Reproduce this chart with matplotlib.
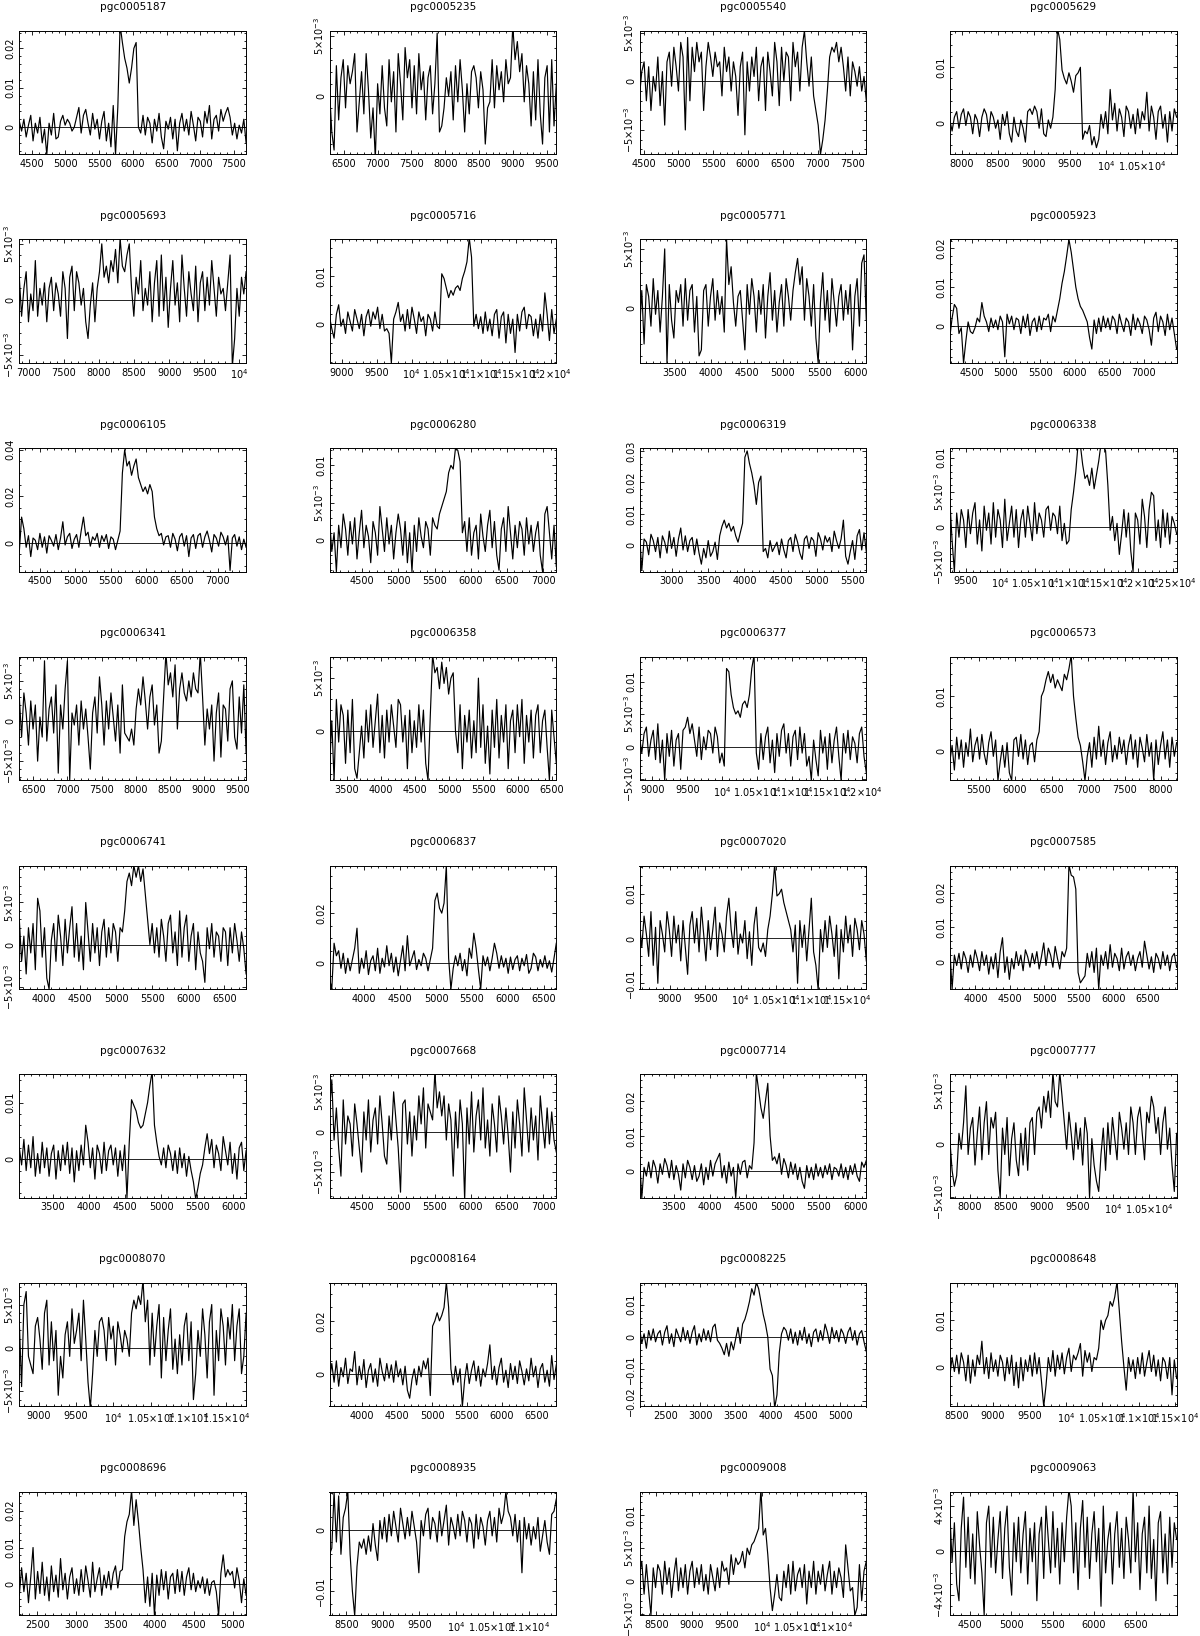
import numpy as np
import matplotlib
matplotlib.use('Agg')
import matplotlib.pyplot as plt
from matplotlib.ticker import MultipleLocator

plt.rcParams['font.family'] = ['DejaVu Sans']
plt.rcParams['mathtext.fontset'] = 'dejavusans'

# ---------------- data ----------------
names = ['pgc0005187', 'pgc0005235', 'pgc0005540', 'pgc0005629',
         'pgc0005693', 'pgc0005716', 'pgc0005771', 'pgc0005923',
         'pgc0006105', 'pgc0006280', 'pgc0006319', 'pgc0006338',
         'pgc0006341', 'pgc0006358', 'pgc0006377', 'pgc0006573',
         'pgc0006741', 'pgc0006837', 'pgc0007020', 'pgc0007585',
         'pgc0007632', 'pgc0007668', 'pgc0007714', 'pgc0007777',
         'pgc0008070', 'pgc0008164', 'pgc0008225', 'pgc0008648',
         'pgc0008696', 'pgc0008935', 'pgc0009008', 'pgc0009063']

# velocity range of each spectrum (km/s)
x_lo = [4315, 6290, 4440, 7830, 6865, 8820, 3013, 4185,
        4215, 4051, 2552, 9266, 6292, 3248, 8815, 5106,
        3654, 3521, 8570, 3628, 3031, 4051, 3032, 7722,
        8742, 3530, 2130, 8407, 2270, 8270, 8260, 4260]
x_hi = [7680, 9640, 7700, 10980, 10095, 12075, 6154, 7475,
        7400, 7180, 5685, 12555, 9625, 6567, 12062, 8212,
        6803, 6670, 11775, 6917, 6180, 7180, 6153, 10882,
        11772, 6780, 5370, 11517, 5170, 11370, 11480, 6995]
# flux axis range (Jy)
y_lo = [-0.0069, -0.00485, -0.0075, -0.0057, -0.0057, -0.0082, -0.0046, -0.0096,
        -0.0125, -0.0042, -0.0084, -0.0065, -0.0074, -0.0046, -0.0052, -0.0054,
        -0.0053, -0.0103, -0.0113, -0.0078, -0.0068, -0.0082, -0.0077, -0.0051,
        -0.0068, -0.0121, -0.0216, -0.0085, -0.0084, -0.0139, -0.0052, -0.0058]
y_hi = [0.0245, 0.0054, 0.0052, 0.0166, 0.0054, 0.0177, 0.0058, 0.0223,
        0.0407, 0.0123, 0.0309, 0.0114, 0.0080, 0.0070, 0.0138, 0.0172,
        0.0094, 0.0390, 0.0163, 0.0278, 0.0150, 0.0072, 0.0276, 0.0066,
        0.0075, 0.0342, 0.0168, 0.0180, 0.0252, 0.0062, 0.0136, 0.0053]
y_step = [0.01, 0.005, 0.005, 0.01, 0.005, 0.01, 0.005, 0.01,
          0.02, 0.005, 0.01, 0.005, 0.005, 0.005, 0.005, 0.01,
          0.005, 0.02, 0.01, 0.01, 0.01, 0.005, 0.01, 0.005,
          0.005, 0.02, 0.01, 0.01, 0.01, 0.01, 0.005, 0.004]

# flux densities, units of 1e-4 Jy, equally spaced channels over the velocity range
f5187 = [15, -10, 20, -25, 5, 30, -35, 10, -15, 25, -40, -5, -70, 10, -20, 35, -30, -25, 15, 30,
         5, 20, 10, -10, 0, 25, 50, -15, 30, 45, 10, -20, 35, -5, 20, -30, 15, 40, -35, 10,
         -50, 55, -70, 50, 260, 215, 175, 150, 112, 150, 200, 215, 0,
         -15, 30, -20, 25, 10, -40, 20, -10, 35, -25, -55, 15, -5, 25, -30, 20, -60, 10, 35, -10,
         20, -20, 40, 5, -35, 25, 15, -25, 40, 10, 55, -30, 20, 30, -10, 45, 15, 35, 50, 25,
         -20, 10, -30, 5, -15, 20, -40]
f5235 = [5, -30, -45, 25, -20, 15, 30, -10, 25, 10, 20, 35, -30, -5, 20, -15, 35, 5, -35, -10,
         -52, 10, -15, 25, -10, -25, 30, -5, 20, -30, 35, 10, -20, 40, 15, 30, -10, 25, -15, 35,
         5, 20, -20, 15, 25, -15, 10, 52, -30, -25, -10, 15, 0, 20, -20, 25, -5, 30, 5, -30,
         10, -15, 20, 25, 15, -10, 20, 5, -40, -10, -5, 30, -10, 25, 5, 20, -5, 30, 10, 15,
         58, 30, 45, 20, 35, -5, 25, 10, -25, 20, -20, 30, -15, -40, 15, 25, -30, 30, -25, 10]
f5540 = [-15, 10, 20, -20, 15, -30, 5, -10, 25, -25, 10, -45, 20, 30, -5, 35, 15, -10, 40, 25,
         -50, 45, -20, 35, 10, 40, 20, 30, -30, 15, 40, 25, 5, 30, 15, 20, -15, 35, 10, 25,
         -10, 20, 5, -35, 15, 30, -55, 20, -10, 25, 5, 35, -20, 15, 25, -30, 30, 10, -15, 40,
         20, -25, 35, 0, 30, 25, -20, 40, 15, 30, -10, 35, 52, 20, -5, 25, -15, -30, -45, -75,
         -60, -40, -10, 25, 35, 30, 40, 20, 35, 15, -10, 25, -15, 20, 10, -5, 15, -10, 5, -20]
f5629 = [5, -15, 10, 20, -10, 15, 25, -5, 20, 10, -20, 15, 5, -25, 10, 25, 15, -15, 20, 10,
         -10, 5, -30, 15, -5, 20, -20, -35, 10, -15, -25, 5, -10, -35, 20, 25, 15, 30, 20, -10,
         25, -20, -25, 5, -10, 10, 60, 170, 150, 95, 80, 70, 90, 75, 55, 85, 90, 100, -30, -15,
         -20, -5, -40, -25, -45, -30, 15, -10, 20, -20, 60, 5, 35, -15, 25, 10, -25, 30, 20, -10,
         15, -20, 25, -10, 20, 5, 55, -15, 30, 10, -30, 20, 30, -10, 15, -35, 20, -15, 25, 10]
f5693 = [20, -15, 10, 25, -20, 5, -10, 35, -15, 10, -5, 15, -20, 10, 20, -10, 15, 5, -15, 25,
         10, -35, 20, 30, -10, 25, 15, -5, 10, -20, -35, -5, 15, -20, 10, 25, 50, 20, 30, 15,
         35, 25, 45, 15, 55, 30, 25, 40, 50, 10, -15, 20, 5, 35, -10, 10, -5, 25, -20, 15,
         35, -15, 40, -10, 20, -25, 10, 35, -5, 15, -20, 40, 10, -15, 25, 5, -10, 30, -20, 15,
         25, -10, 20, -5, 35, 10, -15, 20, 5, 10, -10, 15, 40, -60, -35, 10, -15, 20, 5, 25]
f5716 = [15, -10, -30, 20, 40, -5, 10, -20, 25, 5, -15, 30, 10, -10, 20, -25, 15, 30, -5, 25,
         10, 35, -10, 20, -15, -10, -20, -82, 10, 25, 45, 5, 20, -15, 30, -10, 35, 10, -20, 25,
         5, 15, -25, 20, 10, -15, 25, -5, -10, 105, 95, 75, 55, 70, 60, 75, 80, 70, 95, 110,
         130, 180, 140, -5, 20, -10, 15, -20, 25, -15, 10, -25, 20, 30, -30, 15, 25, -40, 20, -20,
         10, -60, 20, -15, 25, 35, -10, 20, 15, -25, 10, -30, 20, -15, 65, 20, -35, 30, -20, 10]
f5771 = [-20, 15, -30, 20, 10, -15, 25, -5, 15, -20, 10, 50, -46, 20, -10, -25, 15, 5, 20, -15,
         25, -10, 15, 20, -20, 10, -40, -35, 15, 20, -15, 10, 25, -10, 15, -5, 10, -20, 58, 20,
         35, 5, -15, 10, 15, -10, -35, 20, -5, 25, 10, -20, 15, -5, 20, -25, 10, 30, -10, 15,
         -20, 5, 20, -15, 25, 10, -10, 15, 30, 42, 20, 35, -10, 25, 10, -15, 20, -25, -46, 5,
         30, -10, 15, -20, 25, 5, -15, 10, 20, -10, 15, -5, 20, -35, 10, 25, -15, 38, 45, -10]
f5923 = [-30, 20, 55, 45, -20, -5, -96, -40, 10, -15, -20, -5, 20, 10, 60, 25, 10, -15, 20, -5,
         15, -10, 25, 10, -80, 30, 5, 25, -10, 20, 15, -20, 25, -5, 30, -25, 10, 20, -15, 25,
         -10, 20, 15, 30, -15, 25, 10, 40, 70, 110, 140, 180, 223, 190, 145, 100, 70, 50, 40, 25,
         10, -30, -60, 15, -20, 20, -15, 25, -5, 20, -10, 25, 15, -20, 30, 5, -15, 20, 10, -25,
         30, -10, 20, 5, -20, 25, 15, -10, -50, 20, 35, -15, 25, 10, -25, 30, -10, 20, -20, -60]
f6105 = [-40, 110, 60, -20, 30, -60, 20, 10, -30, 40, -20, 25, -45, 30, 10, -15, 35, -30, 20, 90,
         -10, 25, 40, -25, 15, 35, -20, 50, 110, 30, 45, -15, 25, 10, 40, -20, 30, 5, 35, -25,
         25, 15, -30, 10, 50, 300, 400, 330, 350, 290, 330, 360, 280, 250, 220, 240, 210, 250, 220, 110,
         60, 30, 40, -10, 25, 30, -20, 40, 15, -35, 25, 40, -15, 30, -60, 20, 35, -25, 30, 40,
         -20, 25, 50, 10, -40, 35, 20, -15, 45, 25, -10, 30, -120, 20, 35, -15, 25, -30, 15, -20]
f6280 = [30, -15, 10, -42, 20, -10, 35, 15, -20, 25, -5, 30, -25, 10, 40, -10, 20, 5, -30, 25,
         10, -20, 45, 15, -15, 30, -5, 20, -25, 10, 35, 15, -20, 25, -30, 10, -42, 20, -15, 30,
         5, -10, 25, 15, -20, 30, 20, 15, 35, 45, 55, 65, 90, 100, 95, 123, 120, 105, 10, 25,
         -15, 30, -20, 10, 20, -25, 35, 5, -15, 20, 40, -10, 25, -20, -40, 15, 30, -15, 45, 10,
         -25, 20, -10, 25, 15, -20, 30, -5, 20, -15, 10, 25, -20, -42, 35, 45, 10, -25, 20, -35]
f6319 = [40, -80, 20, 10, -30, 35, 15, -20, 25, -40, 30, 10, -25, 45, -10, 25, -35, 20, 55, -15,
         30, -20, 15, 25, -30, 20, -25, -60, -10, -40, 15, -35, -20, 10, -45, 30, 60, 80, 55, 70,
         45, 60, 30, 10, 40, 70, 280, 300, 260, 230, 190, 130, 200, 220, -20, -10, -40, 15, -20, -5,
         10, -30, 20, -15, -40, 15, 25, -20, 35, 10, -25, -45, 20, 30, -10, 25, 15, -35, 40, 20,
         -15, 30, 10, 25, -20, 45, 15, -10, 20, 80, -35, -60, -20, 15, -45, 30, 50, -15, 40, -20]
f6338 = [40, -20, -65, 20, -15, 25, 10, -30, 25, -10, 20, 35, -25, 10, -35, 30, -5, 20, -25, 35,
         -15, 25, 10, -30, 40, -20, 5, 30, -15, 25, -30, 10, 25, -15, 30, 5, -20, 35, -10, 20,
         10, -15, 25, 30, -5, 20, 15, -10, 30, -20, 5, -25, -20, 25, 50, 80, 120, 118, 90, 70,
         75, 60, 85, 55, 75, 95, 120, 118, 110, 60, -5, 15, -20, 5, -40, -10, 25, -15, 20, -35,
         -65, 20, 10, -25, 40, 15, -30, 25, 50, 45, -20, 10, -30, 25, -15, 20, -25, 15, 5, -10]
f6341 = [30, -20, 35, 10, -30, 25, -10, 20, -50, 5, -20, 75, -25, 15, 30, -15, 45, -65, 20, -10,
         40, 75, -74, 10, -5, 20, -30, 25, -10, 15, -20, -60, 10, 30, -15, 55, 20, -30, 25, -10,
         35, 5, -25, 20, -40, 45, -15, -20, -25, -10, -30, 15, 40, 20, 55, 25, -10, 30, 45, -5,
         20, -40, -25, 30, 85, 45, 60, 30, 70, -10, 40, 60, 35, 25, 50, 30, 60, 40, 35, 85,
         30, -30, 15, -10, 20, -50, 10, 35, -45, 20, 15, -25, 40, 50, -20, -35, 30, -15, 45, -40]
f6358 = [-35, 10, -46, 30, -10, 25, 15, -30, 20, -20, 30, -35, -44, -20, 5, -25, 20, -10, 25, -15,
         10, 35, -20, 15, -25, 20, -10, 25, 5, -15, 30, 25, -10, 15, -35, 20, -20, 10, -15, 25,
         -10, 20, -30, -46, 15, 72, 55, 60, 40, 65, 45, 60, 35, 50, 55, 0, -20, 25, -35, 15,
         -10, 20, -25, 10, -20, 50, -15, 25, -30, 5, -40, 20, -15, 30, -25, 15, -10, 25, -35, 10,
         20, -20, 25, -5, 30, -30, 15, -10, 20, -25, 15, 25, -20, 10, 20, -15, -46, 20, -5, -30]
f6377 = [15, -10, 20, 30, -15, 10, 25, -20, 35, -25, 10, -52, 20, -15, 25, -30, 10, 20, -35, 25,
         30, 45, 20, 35, 10, -15, 30, -20, 15, -5, 25, 20, -10, 30, 15, -25, -10, -30, 120, 115,
         80, 60, 50, 55, 45, 65, 70, 60, 80, 120, 140, -10, -35, 20, -20, 15, 30, -25, 10, -40,
         20, -15, 25, 35, -10, 20, -30, 15, 25, -20, 30, -10, 20, -30, -15, -52, 10, -20, -45, 25,
         -10, 15, -35, 20, -25, 10, 30, -15, -52, 20, -10, 25, -20, 15, 5, -25, 20, 30, -15, -40]
f6573 = [-20, 10, -35, 25, -15, 20, -30, 15, -10, 40, -20, 10, 25, -15, 30, -5, -25, 15, 35, -10,
         20, -54, -20, 10, -30, 15, -40, -54, 20, 25, -10, 30, -15, 20, -25, 10, 15, -20, 20, 35,
         100, 110, 130, 145, 125, 140, 115, 130, 120, 110, 140, 130, 150, 175, 100, 60, 25, 10, -20, -54,
         -10, 15, -30, 25, -15, 45, -10, 20, -25, 15, 35, -20, 10, -15, 25, -5, 20, -25, 10, 30,
         -15, 20, -30, 25, 5, -20, 30, -10, 15, -54, 20, -25, 10, 35, -15, 20, -30, 25, -10, 15]
f6741 = [30, -20, 10, -35, 20, -10, 25, -30, 55, 40, -15, 20, -40, -53, 5, 25, -20, 35, 10, -25,
         30, -10, 20, 45, -15, 25, -20, 10, -30, 50, 15, -20, 25, -10, 20, -25, 15, 30, -15, 20,
         -10, 25, 15, -20, 20, 15, 40, 75, 85, 70, 94, 80, 94, 75, 90, 60, 30, 0, 25, -10,
         20, -15, 30, 10, -20, 25, 35, -10, 15, -25, 40, -15, 20, 35, -20, 10, 25, -30, 15, -10,
         -20, -45, 20, -5, 25, -15, 15, 10, -20, 20, 15, -25, 20, -10, 25, 5, -20, 15, -5, -35]
f6837 = [-60, -103, 80, 30, 50, -20, 40, -40, 20, -30, 15, 60, 140, -40, 20, -20, 50, -45, 10, 30,
         -30, 60, -40, 20, -15, 70, -10, 40, -35, 25, -50, 10, 70, -30, 110, -10, 20, 50, -25, 15,
         -10, 40, 20, -30, 15, 60, 250, 280, 220, 200, 240, 390, 20, -103, -20, 30, -10, 40, -30, 15,
         -50, 60, 20, 120, 60, -25, -103, 30, -10, 25, -30, 20, 80, 40, -20, 30, -15, 20, -40, 25,
         -25, 15, 30, -30, 20, -10, 35, -40, -20, 40, 25, -30, 15, -15, 30, -20, 10, -35, 20, 80]
f7020 = [30, -20, 50, 10, -40, 60, -60, 25, -100, 40, 10, -30, 60, 20, -40, 50, -10, 30, -50, 40,
         -20, -80, 30, 60, -10, 45, -30, 70, 10, -50, 40, -25, 20, 70, -40, 35, 10, -30, 50, 90,
         20, -20, 60, -35, 10, -10, 40, -45, 15, -60, 30, 70, -20, -30, -10, -40, 20, 50, 100, 165,
         95, 100, 110, 80, 60, 40, 20, -30, 30, -100, 40, -20, 30, -50, 20, 90, -30, -60, -115, 20,
         -30, 40, -20, 50, 10, -40, 30, -90, 20, -30, 50, -10, 30, -40, 45, 20, -25, 40, 10, -50]
f7585 = [40, -78, 20, -10, 25, -20, 30, 10, -30, 20, -15, 35, 10, -25, 30, -10, 20, -35, 15, -20,
         25, -45, 30, 70, -30, 15, -50, 10, -20, 30, -10, 20, -25, 35, 15, -15, 25, -5, 30, -20,
         15, 55, -10, 40, 20, -15, 45, 10, -20, 30, 15, 40, 280, 250, 245, 210, -30, -60, -50, -40,
         25, -15, 30, -30, 40, -78, 20, -10, 30, -20, 50, -15, 25, 10, -25, 40, -20, 15, 30, -10,
         20, -25, 10, 30, -15, 60, 20, -20, 15, -30, 25, 10, -20, 30, -10, 20, -25, 15, 25, -15]
f7632 = [20, -10, 35, -20, 25, -15, 40, -30, 10, -25, 30, -15, 20, -30, 10, 25, -35, 15, -20, 25,
         -10, 30, -25, 20, -40, 15, -20, 25, -10, 60, 30, -15, 20, -35, 25, 10, -25, 30, -20, 15,
         25, -10, 20, -30, 15, -20, 25, -68, 30, 105, 95, 85, 65, 55, 60, 80, 100, 130, 155, 60,
         30, 5, -10, 20, -15, 25, 10, -20, 15, -25, 20, -15, 10, -30, 5, -20, -40, -70, -50, -25,
         -10, 20, 45, 10, 35, -15, 25, 10, -20, 40, 15, -10, 30, -25, 10, -35, 20, 30, -20, 15]
f7668 = [25, 65, -10, 30, -20, -55, 40, -15, 20, 10, -30, 35, 10, -20, -50, 25, -10, 40, -25, 15,
         30, -15, 45, 10, -30, -40, 20, -10, 50, 15, -20, -75, 35, 40, -15, 25, -30, 20, -10, 45,
         10, 55, -20, 35, 25, 15, 75, 30, 50, 20, 45, -10, 35, 15, -55, 25, -20, 40, 10, -85,
         30, -15, 50, -25, 20, 40, -10, 55, -20, 15, -30, 35, 10, -25, 45, 20, -15, 30, -5, -50,
         25, -20, 40, 10, -30, 55, 15, -25, 30, -10, 20, -35, 45, 10, -20, 30, -15, 25, -10, -25]
f7714 = [40, -77, 10, -15, 25, -20, 30, 10, -35, 20, -10, 35, 15, -20, 30, -25, 15, -10, -55, 20,
         -20, 30, 10, -25, 15, -30, -15, 20, -40, 10, -25, 30, -15, 20, 35, 50, -20, 15, -35, 25,
         -15, 10, -77, 20, -10, 25, 30, -20, 15, 5, 80, 280, 230, 180, 150, 200, 250, 100, 30, 40,
         20, 50, -10, 35, 15, -20, 25, -10, 20, -25, 10, -30, -50, 15, -20, 10, -25, 20, -15, 10,
         -20, 15, -10, 20, -25, 10, 5, -15, 20, -20, 10, -25, 15, -10, 20, -15, -30, 25, 10, 30]
f7777 = [5, -25, -40, -30, 10, -5, 20, 55, -10, 15, 25, -20, 10, 35, -15, 20, 40, -10, 25, 15,
         30, -25, -51, 15, -10, 25, -30, 5, 20, -15, -30, 10, -20, 15, -25, 20, 25, -10, 30, 35,
         15, 45, 30, 50, 25, 68, 40, 35, 68, 45, 20, -5, 30, 10, -15, 20, -5, 15, -20, 25,
         10, -51, 5, -20, -35, -45, -10, 15, -25, 20, -10, 25, 5, -15, 30, 15, -5, 20, -10, 35,
         20, -10, 25, 35, 10, -15, 30, 20, 45, 35, 10, 25, -10, 20, 35, -5, 15, -20, -45, 10]
f8070 = [30, -45, 50, 65, -10, -20, -30, 25, 35, 10, -25, 40, 55, -20, 30, -15, 20, -55, -10, -35,
         15, 30, -10, 45, 5, 20, 40, -15, 55, 10, -40, -70, -30, 20, -10, 30, 35, 20, -15, 35,
         10, 25, -20, 30, 15, -5, 20, 10, -10, 40, 55, 45, 60, 50, 78, 30, 55, -20, 40, -10,
         25, 50, -35, 35, -15, 20, 45, -25, 10, -30, 15, -20, 25, 40, -15, 30, -60, -30, 20, -10,
         45, 15, -35, 30, 50, -55, 20, -15, 45, 25, -20, 35, 10, 50, -15, 25, 45, -30, -10, 40]
f8164 = [-20, 40, -30, 50, -45, 25, -10, 60, -35, 20, 10, 85, -40, 30, -20, 55, -50, 15, 40, -30,
         20, -45, 60, 10, -25, 40, -15, 35, -30, 50, -10, 20, -40, 30, -60, -90, -20, 20, -40, 30,
         -10, 50, 20, 60, -80, 180, 200, 230, 200, 220, 250, 345, 250, 20, -40, 30, -30, 20, -121, -20,
         40, -35, 15, 50, -25, 30, -45, 20, -10, 40, 110, -20, 30, -40, 25, 60, -30, 15, -50, 40,
         -20, 30, -35, 50, 10, -40, 20, -25, 60, -10, 30, -50, 20, 40, -30, 15, -45, 70, -20, 35]
f8225 = [30, -20, 10, -35, 20, -10, 25, -15, 10, 20, -25, 15, 35, -20, 10, -30, 25, 5, -15, 30,
         -10, 20, -20, 15, 35, -25, 10, -15, 25, -10, 20, -15, 30, 40, -10, -20, -35, -55, -20, -60,
         -15, -40, -5, 30, -20, 40, 55, 80, 110, 150, 130, 170, 150, 110, 70, 40, 0, -100, -120, -220,
         -180, -50, 10, 30, 20, -10, 25, -20, 15, -25, 20, -10, 30, -20, 10, -30, 15, 25, -15, 20,
         -10, 40, 15, -20, 30, -5, 20, -15, 25, 10, -20, 15, 30, -10, 20, -25, 10, 20, -15, -45]
f8648 = [-20, 20, -10, 25, -15, 30, 10, -30, 25, -35, 15, -20, 25, 5, 55, -15, 20, -25, 30, -10,
         15, -20, 25, 10, -30, 20, -15, 25, -40, 10, -45, 20, -30, 15, -10, 25, -20, 30, -15, 20,
         -30, -85, -40, 20, -10, 35, -20, 25, -5, 30, -15, 20, 40, -10, 25, 15, 30, 50, -20, 35,
         10, 30, -10, 20, 15, 40, 100, 80, 100, 110, 140, 130, 150, 182, 120, 55, 0, -50, 20, -10,
         15, -25, 20, -15, 30, -20, 10, 35, -10, 25, -20, 15, -30, 20, 10, -25, 20, -60, 15, -25]
f8696 = [-30, 45, -20, 30, -50, 20, 100, -40, 35, -25, 60, -30, 20, -45, 50, -20, 25, -35, 70, -15,
         30, -40, 20, 45, -25, 15, -30, 40, -20, 50, 10, -35, 60, -20, 15, 45, -30, 25, -10, 35,
         -15, 30, 50, -10, 35, 40, 130, 170, 190, 255, 160, 230, 170, 100, 40, -50, 20, -60, 30, -85,
         25, -30, 40, -15, 35, -40, 20, 30, -25, 40, -20, 35, -30, 20, 45, -15, 30, -20, 10, -10,
         20, -25, 15, -30, 5, 10, -20, -85, 30, 80, 20, 40, 25, 35, -10, 45, 10, -50, 15, -30]
f8935 = [-40, -30, 62, -20, 55, -40, 20, 35, 62, -40, -100, -140, -60, -20, -30, -15, -40, -10, -35, 10,
         -25, -50, 15, -15, 20, -20, 25, -10, 30, 5, -20, 35, 10, -15, 20, -10, 30, 5, -20, -70,
         15, -10, 25, 35, -15, 20, 10, -20, 30, -10, 15, 40, -25, 20, 5, -15, 25, -10, 30, 15,
         -20, 20, 10, -30, 25, -15, 20, 5, -25, 15, 30, -10, 20, -20, 35, 10, 25, 62, 30, 20,
         -10, 25, -20, 15, -70, 20, -15, 10, -25, 5, -15, 20, -35, -10, 15, -20, -40, 25, 30, 50]
f9008 = [10, 30, -20, 25, -15, -52, 20, -10, 25, 15, -20, 30, -5, 20, -25, 10, 35, -15, 20, -10,
         25, -20, 15, 30, -10, 20, -5, 25, -15, 10, -20, 25, 5, -15, 20, -10, 30, 15, 20, -5,
         40, 10, 35, 25, 30, 45, 20, 50, 40, 55, 60, 70, 80, 140, 70, 80, 40, -10, -45, -20,
         10, -25, -30, 15, -10, 25, -20, 30, -15, 10, 20, -10, 25, -35, 15, -10, 30, -20, 15, -5,
         25, -15, 10, 30, -20, 15, -10, 20, 5, -25, 55, 20, -15, -10, -52, -40, 25, -30, 15, 30]
f9063 = [35, -10, 25, -30, -45, 20, 48, -15, 30, -25, 15, -30, 35, 5, -20, -58, 25, 40, -15, 30,
         -20, 10, 35, -25, 20, 40, -15, -40, 25, -10, 30, -20, 15, 35, -30, 20, -10, 25, -45, 15,
         30, -25, 40, 10, -20, 35, -15, 20, -30, 25, -10, 30, 55, 40, -20, 25, -35, 20, 45, -15,
         30, -25, 15, 35, -10, 20, -50, 40, -20, 10, 25, -30, 15, 35, -15, 20, -25, 30, 10, -20,
         55, -10, 25, -35, 15, 30, -20, 40, -25, 10, -45, 25, 35, -20, 15, -30, 30, -15, 25, 10]

fluxes = [f5187, f5235, f5540, f5629, f5693, f5716, f5771, f5923,
          f6105, f6280, f6319, f6338, f6341, f6358, f6377, f6573,
          f6741, f6837, f7020, f7585, f7632, f7668, f7714, f7777,
          f8070, f8164, f8225, f8648, f8696, f8935, f9008, f9063]
flux_unit = 1e-4

# ---------------- formatting helpers ----------------
MINUS = '\u2212'


def xfmt(v):
    v = int(round(v))
    if v < 10000:
        return '%d' % v
    if v == 10000:
        return '10$^{4}$'
    return ('%g' % (v / 1e4)) + '\u00d710$^{4}$'


def yfmt(v):
    if abs(v) < 1e-12:
        return '0'
    k = v / 0.01
    if abs(k - round(k)) < 1e-6:
        s = '%g' % (round(k) * 0.01)
        return s.replace('-', MINUS)
    e = int(np.floor(np.log10(abs(v)) + 1e-9))
    m = abs(v) / 10 ** e
    s = '%g\u00d710$^{%d}$' % (round(m, 3), e)
    return (MINUS if v < 0 else '') + s


def ticks_in(step, lo, hi):
    n0 = int(np.ceil(lo / step - 1e-9))
    n1 = int(np.floor(hi / step + 1e-9))
    return [n * step for n in range(n0, n1 + 1)]


# ---------------- figure ----------------
W_PX, H_PX = 1200, 1636
fig = plt.figure(figsize=(W_PX / 100, H_PX / 100), dpi=100)

col_left = [19.3, 329.5, 639.5, 949.8]
ax_w = 226.8
ax_h = 123.6
row_top0 = 30.7
row_dy = 208.7

for idx, name in enumerate(names):
    r, c = divmod(idx, 4)
    left = col_left[c]
    top = row_top0 + r * row_dy
    ax = fig.add_axes([left / W_PX, 1 - (top + ax_h) / H_PX, ax_w / W_PX, ax_h / H_PX])

    flux = np.asarray(fluxes[idx], dtype=float) * flux_unit
    vel = np.linspace(x_lo[idx], x_hi[idx], len(flux))

    ax.axhline(0, color='black', lw=0.6, zorder=1)
    ax.plot(vel, flux, color='black', lw=0.85, zorder=2)
    ax.set_xlim(x_lo[idx], x_hi[idx])
    ax.set_ylim(y_lo[idx], y_hi[idx])

    xt = ticks_in(500, x_lo[idx], x_hi[idx])
    ax.set_xticks(xt)
    ax.set_xticklabels([xfmt(t) for t in xt])
    ax.xaxis.set_minor_locator(MultipleLocator(100))

    st = y_step[idx]
    yt = ticks_in(st, y_lo[idx], y_hi[idx])
    ax.set_yticks(yt)
    ax.set_yticklabels([yfmt(t) for t in yt], rotation=90, va='center', ha='right')
    nsub = 4 if (abs(st - 0.02) < 1e-9 or abs(st - 0.004) < 1e-9) else 5
    ax.yaxis.set_minor_locator(MultipleLocator(st / nsub))

    ax.tick_params(which='both', direction='in', top=True, right=True,
                   labelsize=7.0, width=0.6, colors='black')
    ax.tick_params(which='major', length=3.2)
    ax.tick_params(which='minor', length=1.6)
    ax.tick_params(axis='x', pad=3.3)
    ax.tick_params(axis='y', pad=2.6)
    for sp in ax.spines.values():
        sp.set_linewidth(0.7)

    ax.text(0.5, 1 + 23.5 / ax_h, name, transform=ax.transAxes,
            ha='center', va='center', fontsize=7.6)

fig.savefig('out.png', dpi=100, facecolor='white')
